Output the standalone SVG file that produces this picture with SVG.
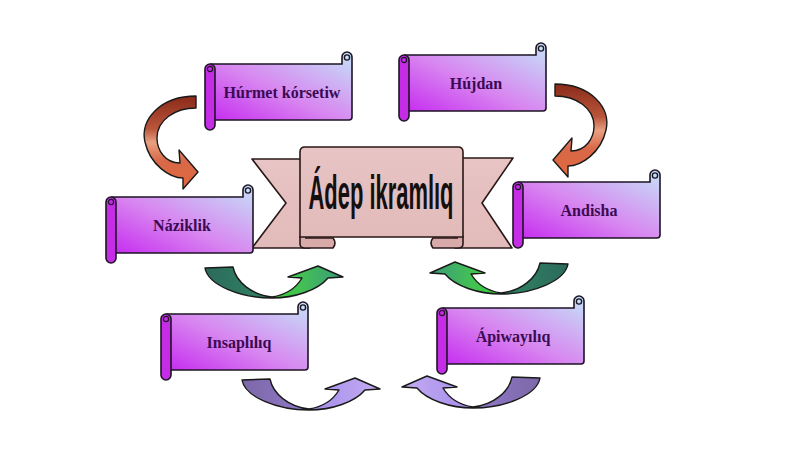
<svg xmlns="http://www.w3.org/2000/svg" width="800" height="449" viewBox="0 0 800 449">
<defs>
<linearGradient id="scrollGrad" x1="0" y1="1" x2="1" y2="0">
<stop offset="0" stop-color="#c62cf0"/>
<stop offset="0.45" stop-color="#d886f0"/>
<stop offset="1" stop-color="#c4e2f8"/>
</linearGradient>
<linearGradient id="redGrad" x1="0" y1="0" x2="0" y2="1">
<stop offset="0" stop-color="#8a2a1a"/>
<stop offset="0.35" stop-color="#b8553a"/>
<stop offset="0.5" stop-color="#e8a080"/>
<stop offset="0.7" stop-color="#d86848"/>
<stop offset="1" stop-color="#e2683e"/>
</linearGradient>
<linearGradient id="greenGrad" x1="0" y1="0" x2="1" y2="0">
<stop offset="0" stop-color="#2c6a5c"/>
<stop offset="0.45" stop-color="#2f8262"/>
<stop offset="0.5" stop-color="#36d036"/>
<stop offset="0.7" stop-color="#44c055"/>
<stop offset="1" stop-color="#3a9a7a"/>
</linearGradient>
<linearGradient id="purpleGrad" x1="0" y1="0" x2="1" y2="0">
<stop offset="0" stop-color="#7c68a8"/>
<stop offset="0.45" stop-color="#8f78c8"/>
<stop offset="0.55" stop-color="#a890ec"/>
<stop offset="1" stop-color="#c4acf2"/>
</linearGradient>
<linearGradient id="pinkGrad" x1="0" y1="0" x2="0" y2="1">
<stop offset="0" stop-color="#e8c4c4"/>
<stop offset="1" stop-color="#e2baba"/>
</linearGradient>
<path id="curveC" d="M196,96 C160,96 140,120 145,142 C150,165 170,178 183,178 L183,189 L198,172 L179,150 L180,163 C165,163 157,150 157,138 C157,120 175,108 196,108 Z"/>
<path id="curveU" d="M205,268 L233,267 C236,282 252,295 272,297 C285,295 296,288 302,278 L288,277 L318,266 L343,277 L328,278 C318,290 295,298 272,298 C240,298 208,285 205,268 Z"/>
<g id="scroll">
<path class="body" d="M6,0 H137 V-7 A5,5 0 0 1 147,-7 V53 Q147,56 144,56 H6 Z"/>
<circle class="curl" cx="142" cy="-6.5" r="2.6"/>
<rect class="roll" x="0" y="0" width="10" height="66" rx="5"/>
<circle class="curl2" cx="5" cy="5" r="2.6"/>
</g>
</defs>
<style>
.body{fill:url(#scrollGrad);stroke:#1e1424;stroke-width:1.6}
.curl{fill:#c4e2f8;stroke:#1e1424;stroke-width:1.4}
.roll{fill:#c42ce6;stroke:#1e1424;stroke-width:1.6}
.curl2{fill:#c42ce6;stroke:#1e1424;stroke-width:1.2}
.lbl{font-family:"Liberation Serif","DejaVu Serif",serif;font-weight:bold;font-size:16px;fill:#3a0a52;text-anchor:middle}
.arr{stroke:#1a1a1a;stroke-width:1.4;stroke-linejoin:round}
.rib{fill:url(#pinkGrad);stroke:#2a1818;stroke-width:1.6;stroke-linejoin:round}
.fold{fill:#d9aaaa;stroke:#2a1818;stroke-width:1.6;stroke-linejoin:round}
</style>
<rect width="800" height="449" fill="#ffffff"/>

<g id="connectors">
<use href="#curveC" class="arr" fill="url(#redGrad)"/>
<use href="#curveC" class="arr" fill="url(#redGrad)" transform="translate(751,-12) scale(-1,1)"/>
<use href="#curveU" class="arr" fill="url(#greenGrad)"/>
<use href="#curveU" class="arr" fill="url(#greenGrad)" transform="translate(773,-4) scale(-1,1)"/>
<use href="#curveU" class="arr" fill="url(#purpleGrad)" transform="translate(37,112)"/>
<use href="#curveU" class="arr" fill="url(#purpleGrad)" transform="translate(745,110) scale(-1,1)"/>
</g>

<g id="center">
<polygon class="rib" points="252,159 310,159 310,248 252,248 286,203"/>
<polygon class="rib" points="513,158 455,158 455,248 512,248 482,203"/>
<path class="fold" d="M300,236 V244 Q300,248 305,248 H333 Q337,243 333,238 H305"/>
<path class="fold" d="M463,236 V244 Q463,248 458,248 H433 Q429,243 433,238 H458"/>
<path class="rib" d="M305,147 H458 Q463,147 463,152 V237 H300 V152 Q300,147 305,147 Z"/>
<text transform="translate(381,209) scale(1,1.42)" x="0" y="0" font-family="'Liberation Sans Narrow','Liberation Sans',Arial,sans-serif" font-weight="bold" font-size="34" fill="#141010" text-anchor="middle" textLength="145" lengthAdjust="spacingAndGlyphs">Ádep ikramlıq</text>
</g>

<g id="node-hurmet" transform="translate(205,64)">
<use href="#scroll"/>
<text class="lbl" x="77" y="34">Húrmet kórsetiw</text>
</g>
<g id="node-hujdan" transform="translate(399,55)">
<use href="#scroll"/>
<text class="lbl" x="77" y="34">Hújdan</text>
</g>
<g id="node-andisha" transform="translate(513,182)">
<use href="#scroll"/>
<text class="lbl" x="76" y="34">Andisha</text>
</g>
<g id="node-naziklik" transform="translate(106,197)">
<use href="#scroll"/>
<text class="lbl" x="76" y="34">Náziklik</text>
</g>
<g id="node-insaplyliq" transform="translate(161,314)">
<use href="#scroll"/>
<text class="lbl" x="78" y="34">Insaplılıq</text>
</g>
<g id="node-apiwayiliq" transform="translate(437,308)">
<use href="#scroll"/>
<text class="lbl" x="76" y="34">Ápiwayılıq</text>
</g>
</svg>
